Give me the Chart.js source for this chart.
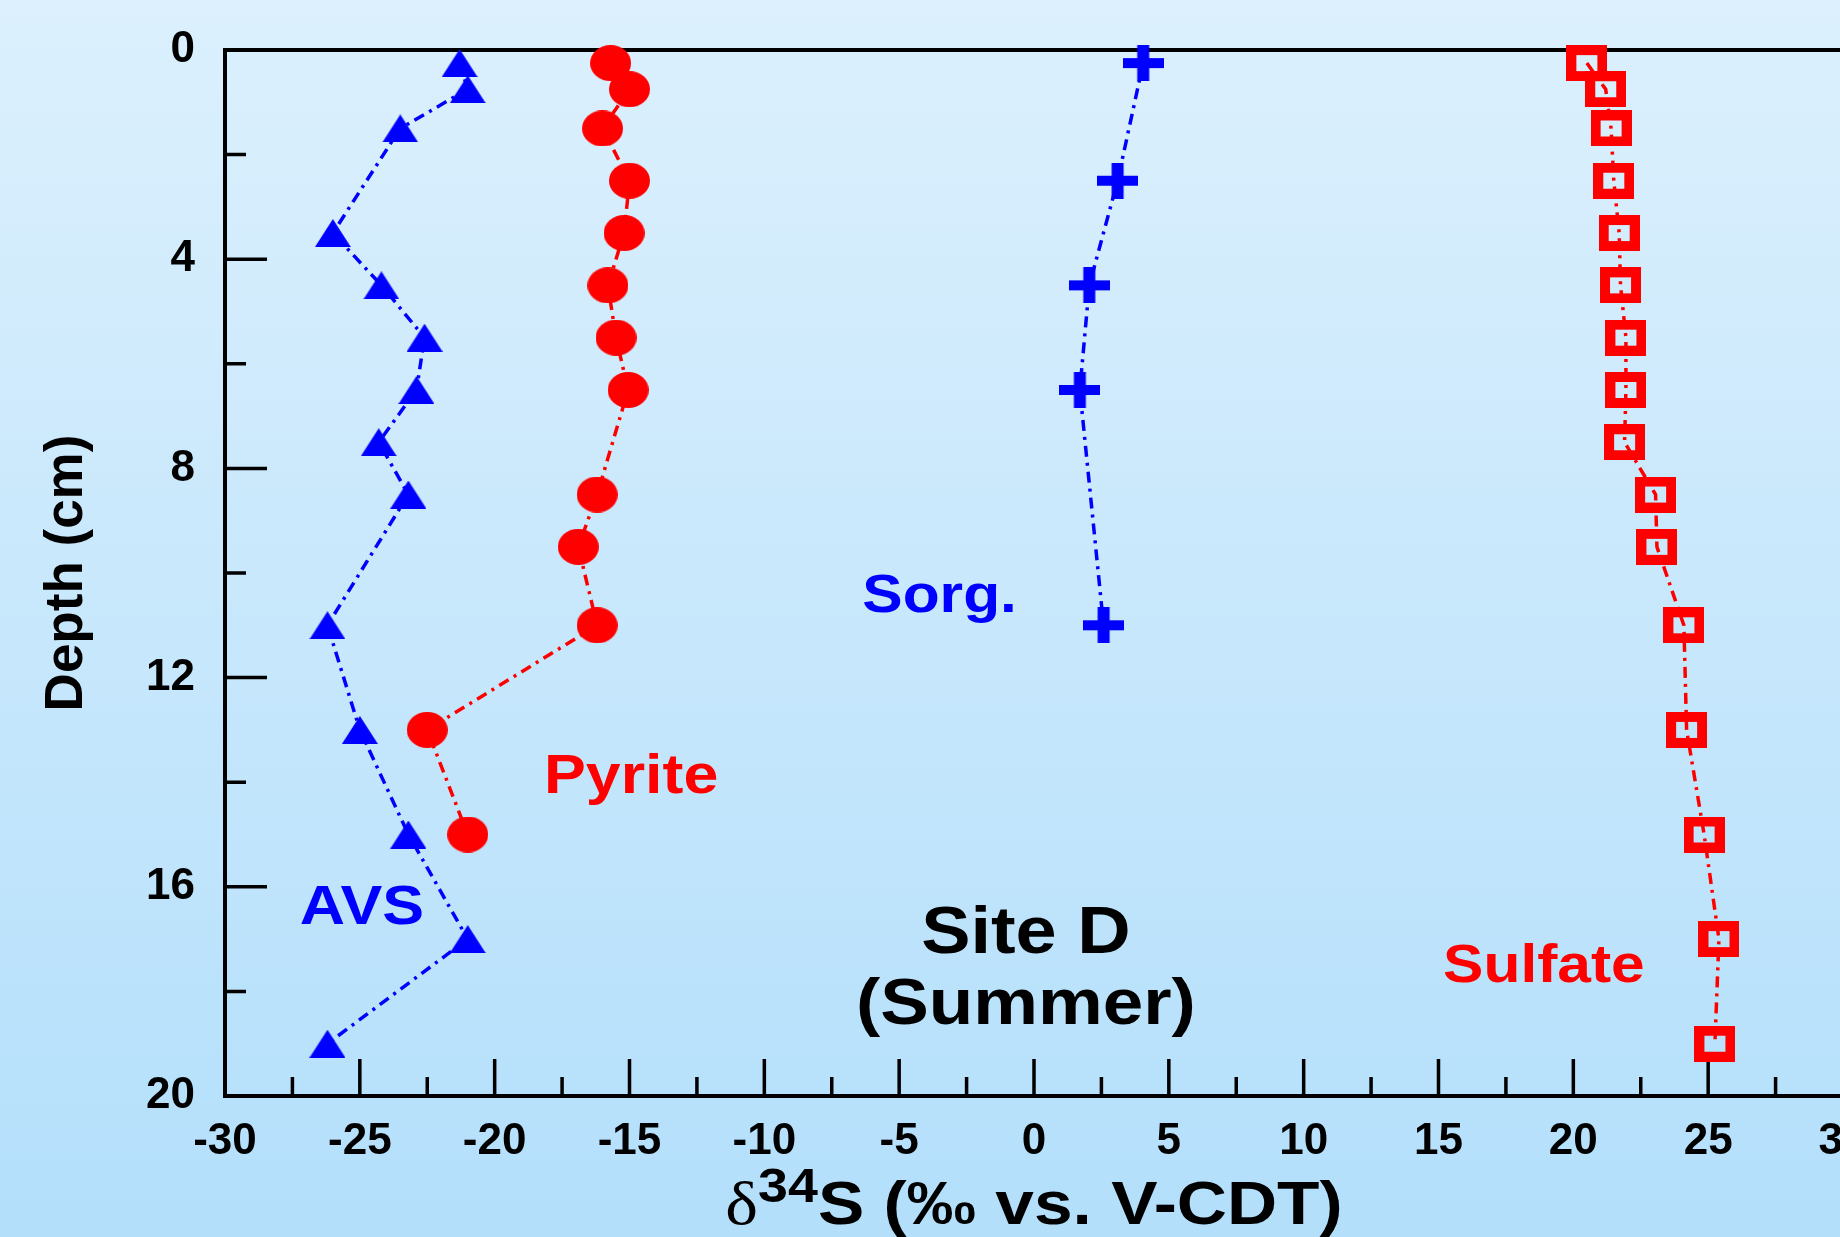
<!DOCTYPE html>
<html>
<head>
<meta charset="utf-8">
<script src="https://cdn.jsdelivr.net/npm/chart.js@4.4.1/dist/chart.umd.min.js"></script>
<style>
  html, body { margin: 0; padding: 0; overflow: hidden; }
  body { width: 1840px; height: 1237px; background: linear-gradient(#dcf0fd, #b3dffb); }
  #wrap { position: absolute; left: 0; top: 0; width: 1900px; height: 1237px; }
</style>
</head>
<body>
<div id="wrap"><canvas id="chart" width="1900" height="1237"></canvas></div>
<script>
// depth (cm) and d34S values
var avsDepth = [0.25, 0.75, 1.5, 3.5, 4.5, 5.5, 6.5, 7.5, 8.5, 11, 13, 15, 17, 19]
var avsValues = [-21.3, -21.0, -23.5, -26.0, -24.2, -22.6, -22.9, -24.3, -23.2, -26.2, -25.0, -23.2, -21.0, -26.2]

var pyriteDepth = [0.25, 0.75, 1.5, 2.5, 3.5, 4.5, 5.5, 6.5, 8.5, 9.5, 11, 13, 15]
var pyriteValues = [-15.7, -15.0, -16.0, -15.0, -15.2, -15.8, -15.5, -15.05, -16.2, -16.9, -16.2, -22.5, -21.0]

var sorgDepth = [0.25, 2.5, 4.5, 6.5, 11]
var sorgValues = [4.05, 3.1, 2.05, 1.7, 2.58]

var sulfateDepth = [0.25, 0.75, 1.5, 2.5, 3.5, 4.5, 5.5, 6.5, 7.5, 8.5, 9.5, 11, 13, 15, 17, 19]
var sulfateValues = [20.5, 21.2, 21.4, 21.5, 21.7, 21.75, 21.95, 21.95, 21.9, 23.05, 23.1, 24.1, 24.2, 24.85, 25.4, 25.25]

var xTicks = [-30, -25, -20, -15, -10, -5, 0, 5, 10, 15, 20, 25, 30]
var yTicks = [0, 4, 8, 12, 16, 20]

var FONT = "'Liberation Sans', Arial, Helvetica, sans-serif"
var BLUE = "#0000ff"
var RED = "#ff0000"
var STRETCH = 1.12

function toPoints(xs, ys) {
    var pts = []
    for (var i = 0; i < xs.length; i++) pts.push({ x: xs[i], y: ys[i] })
    return pts
}

// marker images
function makeMarker(w, h, draw) {
    var c = document.createElement("canvas")
    c.width = w
    c.height = h
    draw(c.getContext("2d"), w, h)
    return c
}

var triangleMark = makeMarker(36, 28, function (ctx, w, h) {
    ctx.fillStyle = BLUE
    ctx.beginPath()
    ctx.moveTo(w / 2, 0)
    ctx.lineTo(w, h)
    ctx.lineTo(0, h)
    ctx.closePath()
    ctx.fill()
})
var circleMark = makeMarker(41, 36, function (ctx, w, h) {
    ctx.fillStyle = RED
    ctx.beginPath()
    ctx.ellipse(w / 2, h / 2, w / 2, h / 2, 0, 0, Math.PI * 2)
    ctx.fill()
})
var plusMark = makeMarker(41, 36, function (ctx, w, h) {
    ctx.fillStyle = BLUE
    ctx.fillRect(0, h / 2 - 5, w, 10)
    ctx.fillRect(w / 2 - 6, 0, 12, h)
})
var squareMark = makeMarker(41, 36, function (ctx, w, h) {
    ctx.fillStyle = RED
    ctx.fillRect(0, 0, w, h)
    ctx.clearRect(10, 10, 21, 16)
})

var dashDot = [11, 6, 3, 6]

function series(label, xs, ys, color, mark) {
    return {
        label: label,
        data: toPoints(xs, ys),
        showLine: true,
        borderColor: color,
        backgroundColor: color,
        borderWidth: 3.5,
        borderDash: dashDot,
        pointStyle: mark,
        pointRadius: 18,
        pointHoverRadius: 18,
        clip: false
    }
}

// text labels placed in data units
var notes = [
    { text: "Sorg.", x: -3.5, y: 10.47, color: BLUE, size: 54 },
    { text: "Pyrite", x: -14.94, y: 13.91, color: RED, size: 56 },
    { text: "AVS", x: -24.92, y: 16.41, color: BLUE, size: 56 },
    { text: "Sulfate", x: 18.91, y: 17.54, color: RED, size: 54 },
    { text: "Site D", x: -0.3, y: 16.91, color: "#000", size: 66 },
    { text: "(Summer)", x: -0.3, y: 18.29, color: "#000", size: 65 }
]

function stretchedText(ctx, text, x, y) {
    ctx.save()
    ctx.translate(x, y)
    ctx.scale(STRETCH, 1)
    ctx.fillText(text, 0, 0)
    ctx.restore()
}

var decor = {
    id: "decor",
    beforeDatasetsDraw: function (chart) {
        var ctx = chart.ctx
        var a = chart.chartArea
        var xs = chart.scales.x
        var ys = chart.scales.y
        ctx.save()
        ctx.strokeStyle = "#000"
        // top frame line
        ctx.lineWidth = 4
        ctx.beginPath()
        ctx.moveTo(a.left - 2, a.top)
        ctx.lineTo(a.right + 40, a.top)
        ctx.stroke()
        // inward ticks
        ctx.lineWidth = 3.5
        ctx.beginPath()
        for (var d = 2; d < 20; d += 2) {
            var py = ys.getPixelForValue(d)
            var len = d % 4 == 0 ? 42 : 21
            ctx.moveTo(a.left, py)
            ctx.lineTo(a.left + len, py)
        }
        for (var v = -27.5; v < 30; v += 2.5) {
            var px = xs.getPixelForValue(v)
            var l2 = v % 5 == 0 ? 37 : 19
            ctx.moveTo(px, a.bottom)
            ctx.lineTo(px, a.bottom - l2)
        }
        ctx.stroke()
        ctx.restore()
    },
    afterDraw: function (chart) {
        var ctx = chart.ctx
        var xs = chart.scales.x
        var ys = chart.scales.y
        ctx.save()
        ctx.textAlign = "center"
        ctx.textBaseline = "middle"
        notes.forEach(function (n) {
            ctx.fillStyle = n.color
            ctx.font = "bold " + n.size + "px " + FONT
            stretchedText(ctx, n.text, xs.getPixelForValue(n.x), ys.getPixelForValue(n.y))
        })
        // x axis title with superscript
        var base = 1224
        var parts = [
            { t: "\u03b4", f: "62px 'Liberation Serif', 'DejaVu Serif', serif", dy: 0 },
            { t: "34", f: "bold 48px " + FONT, dy: -22 },
            { t: "S (\u2030 vs. V-CDT)", f: "bold 62px " + FONT, dy: 0 }
        ]
        var total = 0
        parts.forEach(function (p) {
            ctx.font = p.f
            p.w = ctx.measureText(p.t).width * STRETCH
            total += p.w
        })
        var cx = xs.getPixelForValue(0) - total / 2
        ctx.textAlign = "left"
        ctx.textBaseline = "alphabetic"
        ctx.fillStyle = "#000"
        parts.forEach(function (p) {
            ctx.font = p.f
            stretchedText(ctx, p.t, cx, base + p.dy)
            cx += p.w
        })
        ctx.restore()
    }
}

var ctx = document.getElementById("chart")
var myChart = new Chart(ctx, {
    type: "scatter",
    data: {
        datasets: [
            series("AVS", avsValues, avsDepth, BLUE, triangleMark),
            series("Pyrite", pyriteValues, pyriteDepth, RED, circleMark),
            series("Sorg.", sorgValues, sorgDepth, BLUE, plusMark),
            series("Sulfate", sulfateValues, sulfateDepth, RED, squareMark)
        ]
    },
    options: {
        responsive: false,
        animation: false,
        devicePixelRatio: 1,
        layout: { padding: { top: 50, right: 57, left: 0, bottom: 0 } },
        plugins: {
            legend: { display: false },
            tooltip: { enabled: false }
        },
        scales: {
            x: {
                type: "linear",
                position: "bottom",
                min: -30,
                max: 30,
                afterBuildTicks: function (scale) {
                    scale.ticks = xTicks.map(function (v) { return { value: v } })
                },
                afterFit: function (scale) { scale.height = 141 },
                ticks: {
                    color: "#000",
                    padding: 11,
                    maxRotation: 0,
                    font: { family: FONT, size: 44, weight: "bold" }
                },
                grid: { display: false },
                border: { display: true, color: "#000", width: 4 }
            },
            y: {
                type: "linear",
                reverse: true,
                min: 0,
                max: 20,
                afterBuildTicks: function (scale) {
                    scale.ticks = yTicks.map(function (v) { return { value: v } })
                },
                afterFit: function (scale) { scale.width = 225 },
                ticks: {
                    color: "#000",
                    padding: 22,
                    font: { family: FONT, size: 44, weight: "bold" }
                },
                grid: { display: false },
                border: { display: true, color: "#000", width: 4 },
                title: {
                    display: true,
                    text: "Depth (cm)",
                    color: "#000",
                    padding: { top: 36, bottom: 0 },
                    font: { family: FONT, size: 53, weight: "bold" }
                }
            }
        }
    },
    plugins: [decor]
})
</script>
</body>
</html>
